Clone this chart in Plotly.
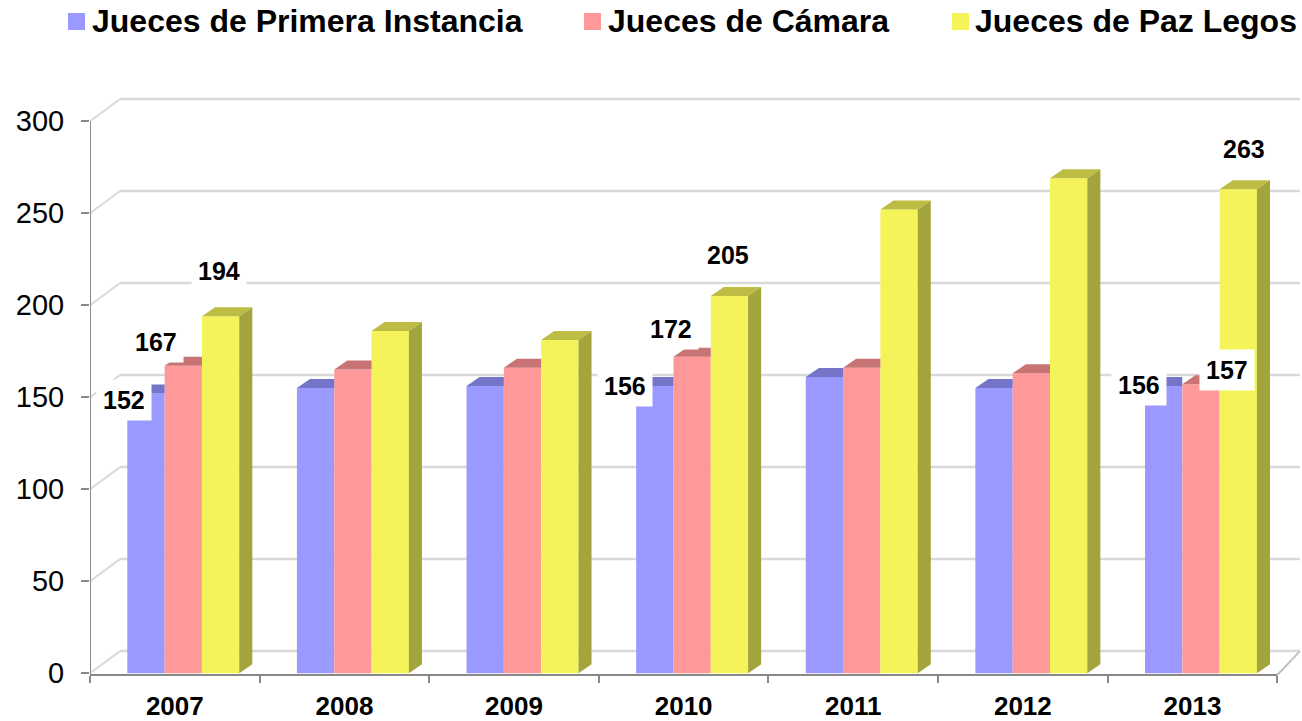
import plotly.graph_objects as go

# ---------------- data ----------------
years = ["2007", "2008", "2009", "2010", "2011", "2012", "2013"]
primera_instancia = [152, 155, 156, 156, 161, 155, 156]
camara = [167, 165, 166, 172, 166, 163, 157]
paz_legos = [194, 186, 181, 205, 252, 269, 263]
series_names = ["Jueces de Primera Instancia", "Jueces de Cámara", "Jueces de Paz Legos"]
y_ticks = [0, 50, 100, 150, 200, 250, 300]
labelled_years = ["2007", "2010", "2013"]

# ---------------- styles ----------------
FONT = "Liberation Sans, Arial, sans-serif"
FRONT = ["#9999FF", "#FF9999", "#F4F45A"]
TOP = ["#7474C8", "#C87474", "#BDBD45"]
SIDE = "#A4A43C"
AXIS_COL = "#898989"
GRID_COL = "#D9D9D9"
BAR_OFFSETS = [-0.28, -0.06, 0.16]
BAR_W = 0.22
DEPTH_X = 0.077      # 3-D depth of a bar, category units
DEPTH_Y = 4.9        # 3-D depth of a bar, value units
WALL_X = -0.323      # left edge of the back wall
WALL_DY = 12         # back wall lift, value units
X_MIN, X_MAX = -0.5, 6.634
Y_MIN, Y_MAX = -1.0, 314.2
M_L, M_R, M_T, M_B = 90, 2, 95, 46
FIG_W, FIG_H = 1302, 721
# label shifts (px) for the data labels: (series index, year) -> (xshift, yshift)
LABEL_SHIFT = {
    (0, "2007"): (-22, -7), (1, "2007"): (-27, 24), (2, "2007"): (-2, 45),
    (0, "2010"): (-30, 0), (1, "2010"): (-21, 28), (2, "2010"): (-1, 41),
    (0, "2013"): (-25, 1), (1, "2013"): (26, 14), (2, "2013"): (6, 40),
}
# legend layout in pixels: marker left edge, text left edge
LEG_MARKER_X = [68, 584, 952]
LEG_TEXT_X = [91, 607, 974]
LEG_MARKER_Y = (13, 30)
LEG_TEXT_Y = 21

series = [primera_instancia, camara, paz_legos]
xs = list(range(len(years)))
PW, PH = FIG_W - M_L - M_R, FIG_H - M_T - M_B


def px_to_paper_x(p):
    return (p - M_L) / PW


def px_to_paper_y(p):
    return (FIG_H - M_B - p) / PH


fig = go.Figure()

# front faces of the bars
for k, vals in enumerate(series):
    fig.add_trace(go.Bar(
        x=xs, y=vals, offset=BAR_OFFSETS[k], width=BAR_W,
        marker=dict(color=FRONT[k], line=dict(width=0)),
        name=series_names[k], showlegend=False, hoverinfo="skip",
    ))

# top faces (3-D look), built from the same values
for k, vals in enumerate(series):
    px, py = [], []
    for i, v in enumerate(vals):
        x0 = i + BAR_OFFSETS[k]
        x1 = x0 + BAR_W
        if k < 2:   # partially hidden behind the next bar
            px += [x0, x1, x1, x0 + DEPTH_X, x0, None]
        else:
            px += [x0, x1, x1 + DEPTH_X, x0 + DEPTH_X, x0, None]
        py += [v, v, v + DEPTH_Y, v + DEPTH_Y, v, None]
    fig.add_trace(go.Scatter(x=px, y=py, mode="lines", fill="toself",
                             fillcolor=TOP[k], line=dict(width=0),
                             showlegend=False, hoverinfo="skip"))

# side face of the last bar in each group
px, py = [], []
for i, v in enumerate(paz_legos):
    x1 = i + BAR_OFFSETS[2] + BAR_W
    px += [x1, x1 + DEPTH_X, x1 + DEPTH_X, x1, x1, None]
    py += [0, DEPTH_Y, v + DEPTH_Y, v, 0, None]
fig.add_trace(go.Scatter(x=px, y=py, mode="lines", fill="toself",
                         fillcolor=SIDE, line=dict(width=0),
                         showlegend=False, hoverinfo="skip"))

# back wall gridlines + left wall diagonals
shapes = []
for v in y_ticks:
    shapes.append(dict(type="line", xref="x", yref="y", x0=WALL_X, x1=X_MAX,
                       y0=v + WALL_DY, y1=v + WALL_DY,
                       line=dict(color=GRID_COL, width=2.5), layer="below"))
    shapes.append(dict(type="line", xref="x", yref="y", x0=X_MIN, x1=WALL_X,
                       y0=v, y1=v + WALL_DY,
                       line=dict(color=GRID_COL, width=2), layer="below"))
# floor right edge
shapes.append(dict(type="line", xref="x", yref="y", x0=len(years) - 0.5, x1=X_MAX,
                   y0=Y_MIN, y1=WALL_DY, line=dict(color="#BFBFBF", width=2),
                   layer="below"))
# front axes
shapes.append(dict(type="line", xref="x", yref="y", x0=X_MIN, x1=X_MIN,
                   y0=Y_MIN, y1=y_ticks[-1], line=dict(color=AXIS_COL, width=2)))
shapes.append(dict(type="line", xref="x", yref="paper", x0=X_MIN, x1=len(years) - 0.5,
                   y0=0, y1=0, line=dict(color=AXIS_COL, width=2)))

# data labels
annotations = []
for k, vals in enumerate(series):
    for i, yr in enumerate(years):
        if yr in labelled_years:
            sx, sy = LABEL_SHIFT[(k, yr)]
            annotations.append(dict(
                x=i + BAR_OFFSETS[k] + BAR_W / 2, y=vals[i], xref="x", yref="y",
                text=str(vals[i]), showarrow=False, xshift=sx, yshift=sy,
                font=dict(family=FONT, size=25, color="black", weight="bold"),
                bgcolor="white", borderpad=6,
            ))

# legend (drawn as keys + text so it can sit at the very top)
for k in range(3):
    shapes.append(dict(type="rect", xref="paper", yref="paper",
                       x0=px_to_paper_x(LEG_MARKER_X[k]),
                       x1=px_to_paper_x(LEG_MARKER_X[k] + 17),
                       y0=px_to_paper_y(LEG_MARKER_Y[1]), y1=px_to_paper_y(LEG_MARKER_Y[0]),
                       fillcolor=FRONT[k], line=dict(width=0)))
    annotations.append(dict(
        x=px_to_paper_x(LEG_TEXT_X[k]), y=px_to_paper_y(LEG_TEXT_Y),
        xref="paper", yref="paper", xanchor="left", yanchor="middle",
        text=series_names[k], showarrow=False, borderpad=0,
        font=dict(family=FONT, size=32, color="black", weight="bold"),
    ))

fig.update_layout(
    width=FIG_W, height=FIG_H,
    margin=dict(l=M_L, r=M_R, t=M_T, b=M_B, autoexpand=False),
    paper_bgcolor="white", plot_bgcolor="white",
    barmode="overlay", showlegend=False,
    shapes=shapes, annotations=annotations,
    xaxis=dict(range=[X_MIN, X_MAX], tickvals=xs, ticktext=years, ticks="",
               showgrid=False, zeroline=False, showline=False, ticklabelstandoff=13,
               automargin=False,
               tickfont=dict(family=FONT, size=26, color="black", weight="bold"),
               minor=dict(tickvals=[i - 0.5 for i in range(len(years) + 1)],
                          ticks="outside", ticklen=7, tickwidth=2, tickcolor=AXIS_COL,
                          showgrid=False)),
    yaxis=dict(range=[Y_MIN, Y_MAX], tickvals=y_ticks, ticks="outside", ticklen=8,
               tickwidth=2, tickcolor=AXIS_COL, showgrid=False, zeroline=False,
               showline=False, ticklabelstandoff=11, automargin=False,
               tickfont=dict(family=FONT, size=29, color="black")),
)

fig.write_html("out.html", config={"displayModeBar": False},
               post_script="document.body.style.margin='0';")
